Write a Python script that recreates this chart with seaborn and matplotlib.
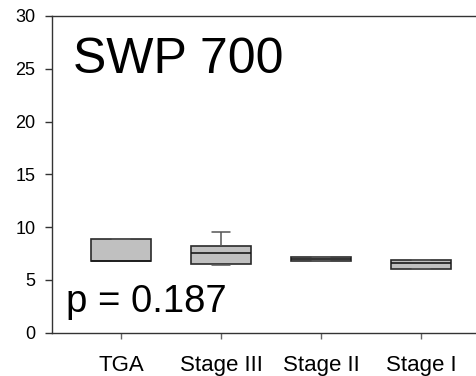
import matplotlib
matplotlib.use("Agg")
import matplotlib.pyplot as plt
import seaborn as sns
import pandas as pd

groups = ["TGA", "Stage III", "Stage II", "Stage I"]
# five-number summaries: low whisker, q1, median, q3, high whisker
tga = [6.81, 6.81, 6.81, 8.84, 8.84]
stage3 = [6.40, 6.53, 7.54, 8.16, 9.49]
stage2 = [6.76, 6.76, 6.95, 7.13, 7.13]
stage1 = [6.03, 6.03, 6.60, 6.90, 6.90]
yticks = [0, 5, 10, 15, 20, 25, 30]
title_text = "SWP 700"
p_text = "p = 0.187"

rows = []
for g, vals in zip(groups, [tga, stage3, stage2, stage1]):
    for v in vals:
        rows.append({"group": g, "value": v})
df = pd.DataFrame(rows)

sns.set_style("white")
plt.rcParams["font.family"] = ["Liberation Sans", "DejaVu Sans"]

fig = plt.figure(figsize=(4.77, 3.76), dpi=100)
ax = fig.add_axes([52 / 477, (376 - 332.5) / 376, 440 / 477, (332.5 - 16) / 376])

sns.boxplot(data=df, x="group", y="value", order=groups, ax=ax, width=0.6,
            color="#c0c0c0", saturation=1, linewidth=1.2, linecolor="#2a2a2a",
            whis=10, showfliers=False,
            medianprops=dict(color="#1a1a1a", linewidth=1.2),
            capprops=dict(color="#555555", linewidth=1.1),
            whiskerprops=dict(color="#555555", linewidth=1.1))

# narrow caps
for line in ax.lines:
    xd = line.get_xdata()
    yd = line.get_ydata()
    if len(xd) == 2 and yd[0] == yd[1]:
        cx = (xd[0] + xd[1]) / 2
        half = abs(xd[1] - xd[0]) / 2
        if half < 0.2:
            line.set_xdata([cx - 0.09, cx + 0.09])

ax.set_ylim(0, 30)
ax.set_xlim(-0.69, -0.69 + 440 / 100)
ax.set_yticks(yticks)
ax.set_xlabel("")
ax.set_ylabel("")

for s in ["left", "bottom", "top"]:
    ax.spines[s].set_visible(True)
    ax.spines[s].set_color("#333333")
    ax.spines[s].set_linewidth(1.0)
ax.spines["right"].set_visible(False)

ax.tick_params(axis="y", which="both", left=True, length=5, width=1, color="#333333",
               pad=7, labelsize=13, labelcolor="black")
ax.tick_params(axis="x", which="both", bottom=True, length=4, width=1, color="#666666",
               pad=12, labelsize=16, labelcolor="black")

fig.text(73 / 477, (376 - 73.3) / 376, title_text, fontsize=36, color="black",
         ha="left", va="baseline")
fig.text(66 / 477, (376 - 312.5) / 376, p_text, fontsize=27.5, color="black",
         ha="left", va="baseline")

fig.savefig("out.png", dpi=100)
